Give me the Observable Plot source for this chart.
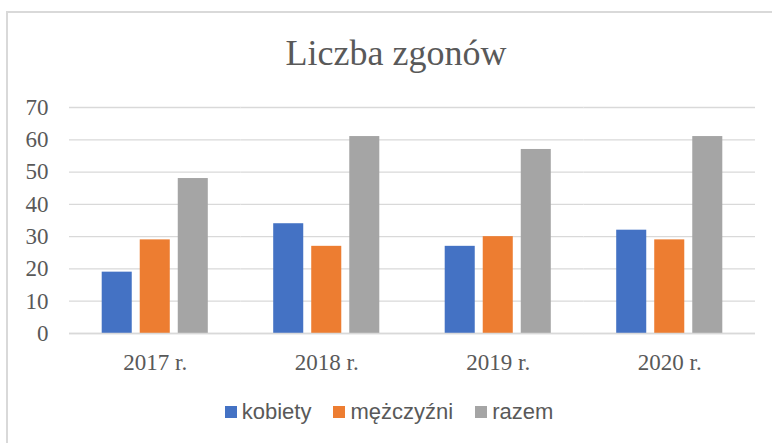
<!DOCTYPE html>
<html>
<head>
<meta charset="utf-8">
<script src="https://cdn.jsdelivr.net/npm/d3@7"></script>
<script src="https://cdn.jsdelivr.net/npm/@observablehq/plot@0.6"></script>
<style>
  html, body { margin: 0; padding: 0; background: #fff; width: 772px; height: 443px; overflow: hidden; }
  #wrap { position: relative; width: 772px; height: 443px; }
  #frame { position: absolute; left: 6px; top: 11px; width: 800px; height: 500px;
           border-left: 2px solid #d9d9d9; border-top: 2px solid #d9d9d9; box-sizing: border-box; }
  #title { position: absolute; left: 0; width: 792px; top: 35px; text-align: center;
           font-family: "Liberation Serif", serif; font-size: 36px; color: #595959; line-height: 1; }
  #chart { position: absolute; left: 0; top: 0; }
  #legend { position: absolute; left: 0; top: 398px; width: 800px; display: flex; justify-content: center;
            font-family: "Liberation Sans", Arial, sans-serif; font-size: 22px; color: #595959; line-height: 28px; }
  .item { display: flex; align-items: center; margin-right: 22px; }
  .sw { width: 12px; height: 12px; margin-right: 5px; }
</style>
</head>
<body>
<div id="wrap">
  <div id="frame"></div>
  <div id="chart"></div>
  <div id="title">Liczba zgonów</div>
  <div id="legend"></div>
</div>
<script>
const years = ["2017 r.", "2018 r.", "2019 r.", "2020 r."];
const seriesNames = ["kobiety", "mężczyźni", "razem"];
const kobiety = [19, 34, 27, 32];
const mezczyzni = [29, 27, 30, 29];
const razem = [48, 61, 57, 61];
const yTicks = [0, 10, 20, 30, 40, 50, 60, 70];
const colors = ["#4472C4", "#ED7D31", "#A5A5A5"];

const seriesValues = [kobiety, mezczyzni, razem];
const data = [];
years.forEach((yr, i) => {
  seriesNames.forEach((s, j) => data.push({year: yr, series: s, value: seriesValues[j][i]}));
});

const chart = Plot.plot({
  width: 772,
  height: 380,
  marginTop: 107,
  marginBottom: 47,
  marginLeft: 69,
  marginRight: 17,
  style: {fontFamily: "Liberation Serif, serif", fontSize: "23px", color: "#595959", background: "transparent"},
  fx: {domain: years, padding: 0, label: null, round: false},
  x: {domain: seriesNames, paddingInner: 0.21, paddingOuter: 0.86, axis: null, round: false},
  y: {domain: [0, 70], label: null},
  color: {domain: seriesNames, range: colors},
  marks: [
    Plot.gridY(yTicks, {stroke: "#d9d9d9", strokeOpacity: 1, strokeWidth: 1.3}),
    Plot.barY(data, {fx: "year", x: "series", y: "value", fill: "series"}),
    Plot.ruleY([0], {stroke: "#d9d9d9", strokeWidth: 1.3}),
    Plot.axisY(yTicks, {tickSize: 0, tickPadding: 21, fontSize: 23, label: null}),
    Plot.axisFx({anchor: "bottom", tickSize: 0, tickPadding: 20, fontSize: 23, label: null})
  ]
});
document.getElementById("chart").appendChild(chart);

const legend = document.getElementById("legend");
seriesNames.forEach((s, i) => {
  const item = document.createElement("div");
  item.className = "item";
  const sw = document.createElement("div");
  sw.className = "sw";
  sw.style.background = colors[i];
  const t = document.createElement("span");
  t.textContent = s;
  item.appendChild(sw);
  item.appendChild(t);
  legend.appendChild(item);
});
</script>
</body>
</html>
